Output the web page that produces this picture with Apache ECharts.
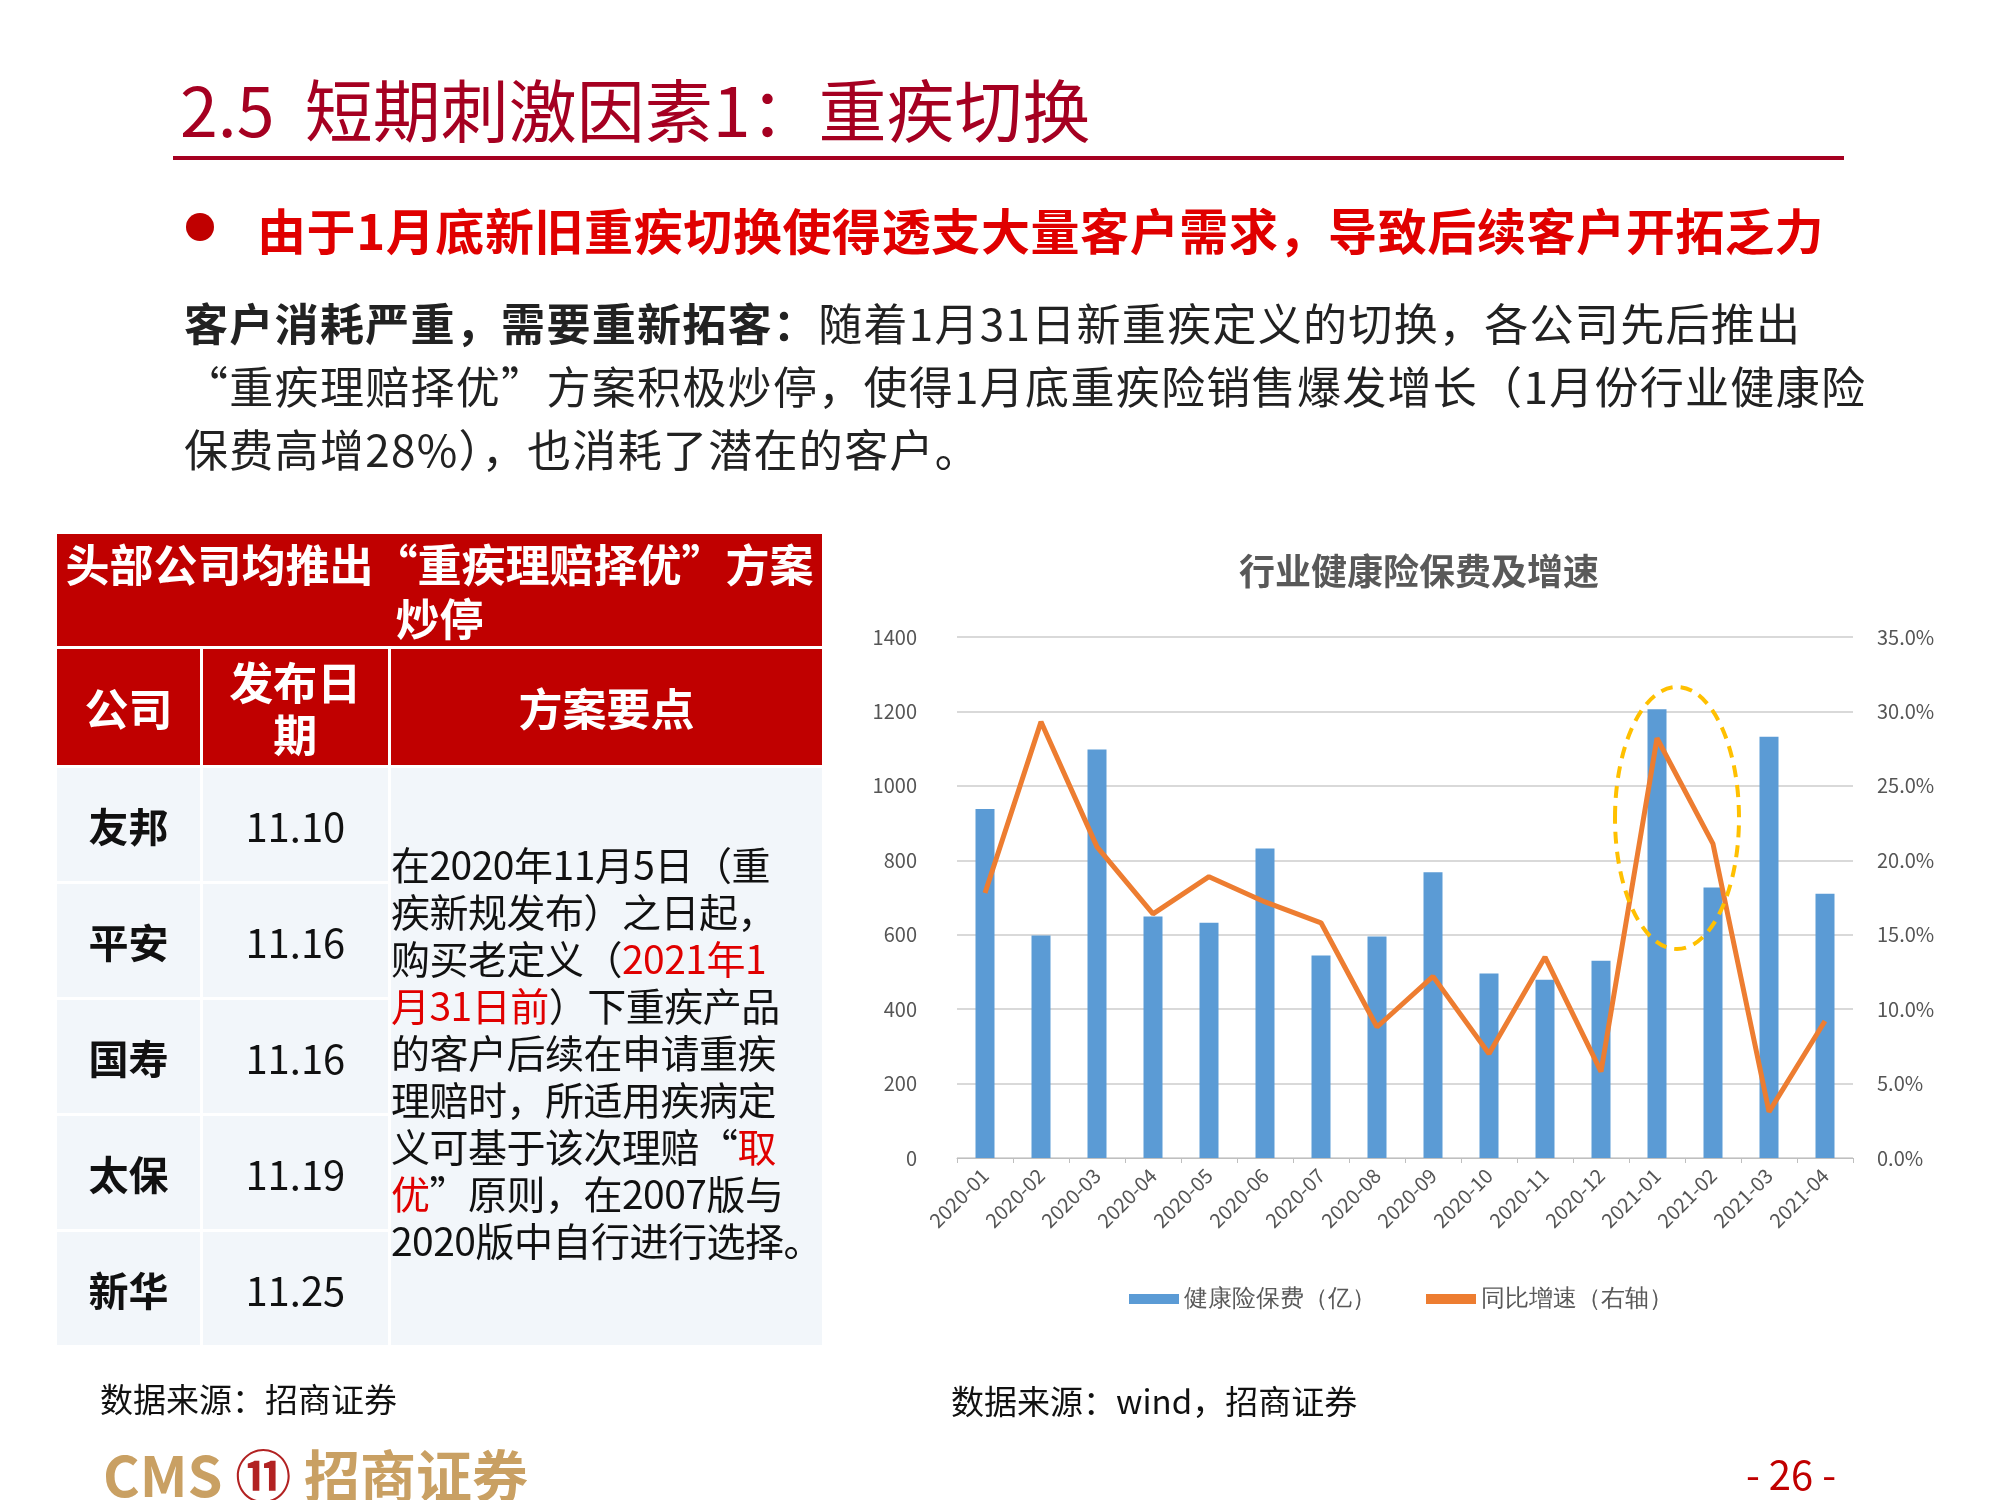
<!DOCTYPE html>
<html><head><meta charset="utf-8">
<script src="https://cdn.jsdelivr.net/npm/echarts@6/dist/echarts.min.js"></script>
<style>
body{margin:0;width:2000px;height:1500px;background:#fff;font-family:"Noto Sans CJK SC","Noto Sans",sans-serif;position:relative;overflow:hidden}
#c{position:absolute;left:0;top:0;width:2000px;height:1500px}
.a{position:absolute;white-space:nowrap}
table{position:absolute;left:54px;top:531px;width:771px;border-collapse:collapse;font-size:40px}
td{border:3px solid #fff;text-align:center;padding:0}
.h{background:#C00000;color:#fff;font-weight:bold}
.d{background:#F2F6FA;color:#111}
</style></head><body>
<div id="c"></div>
<div class="a" style="left:180px;top:58px;font-size:68px;color:#A50021">2.5&nbsp; 短期刺激因素1：重疾切换</div>
<div class="a" style="left:173px;top:156px;width:1671px;height:4px;background:#A50021"></div>
<div class="a" style="left:186px;top:213px;width:28px;height:28px;border-radius:50%;background:#C00000"></div>
<div class="a" style="left:257px;top:193px;font-size:49px;font-weight:bold;color:#E00000;letter-spacing:0.6px">由于1月底新旧重疾切换使得透支大量客户需求，导致后续客户开拓乏力</div>
<div class="a" style="left:184px;top:291px;font-size:44px;line-height:63px;color:#222;letter-spacing:1.3px">
<b>客户消耗严重，需要重新拓客：</b>随着1月31日新重疾定义的切换，各公司先后推出<br>“重疾理赔择优”方案积极炒停，使得1月底重疾险销售爆发增长（1月份行业健康险<br>保费高增28%），也消耗了潜在的客户。</div>
<table>
<tr style="height:115px"><td class="h" colspan="3" style="font-size:44px;line-height:54px">头部公司均推出“重疾理赔择优”方案<br>炒停</td></tr>
<tr style="height:119px"><td class="h" style="width:145px;font-size:44px">公司</td><td class="h" style="width:187px;font-size:44px;line-height:52px">发布日<br>期</td><td class="h" style="font-size:44px">方案要点</td></tr>
<tr style="height:116px"><td class="d"><b>友邦</b></td><td class="d">11.10</td><td class="d" rowspan="5" style="text-align:left;font-size:39px;line-height:47px;vertical-align:top;padding-top:72px;white-space:nowrap;letter-spacing:-0.5px">在2020年11月5日（重<br>疾新规发布）之日起，<br>购买老定义（<span style="color:#E00000">2021年1<br>月31日前</span>）下重疾产品<br>的客户后续在申请重疾<br>理赔时，所适用疾病定<br>义可基于该次理赔“<span style="color:#E00000">取<br>优</span>”原则，在2007版与<br>2020版中自行进行选择。</td></tr>
<tr style="height:116px"><td class="d"><b>平安</b></td><td class="d">11.16</td></tr>
<tr style="height:116px"><td class="d"><b>国寿</b></td><td class="d">11.16</td></tr>
<tr style="height:116px"><td class="d"><b>太保</b></td><td class="d">11.19</td></tr>
<tr style="height:116px"><td class="d"><b>新华</b></td><td class="d">11.25</td></tr>
</table>
<div class="a" style="left:100px;font-size:33px;color:#111;top:1374px">数据来源：招商证券</div>
<div class="a" style="left:951px;top:1376px;font-size:33px;color:#111">数据来源：wind，招商证券</div>
<div class="a" style="left:103px;top:1432px;font-size:56px;font-weight:bold;color:#C9A063">CMS <span style="color:#B22222">⑪</span> 招商证券</div>
<div class="a" style="left:1746px;top:1444px;font-size:40px;color:#C00000">- 26 -</div>
<script>
const months=['2020-01','2020-02','2020-03','2020-04','2020-05','2020-06','2020-07','2020-08','2020-09','2020-10','2020-11','2020-12','2021-01','2021-02','2021-03','2021-04'];
const premium=[938,598,1098,649,632,832,544,595,768,496,479,530,1206,727,1132,710];
const growth=[17.8,29.3,20.9,16.4,18.9,17.2,15.8,8.8,12.2,7.0,13.5,5.8,28.2,21.1,3.1,9.2];
const labelIdx=[12,13];
const ch=echarts.init(document.getElementById('c'));
const ax={color:'#555',fontSize:20,fontFamily:'Noto Sans CJK SC'};
ch.setOption({
 animation:false,
 title:{text:'行业健康险保费及增速',left:1414,top:548,textAlign:'center',textStyle:{fontSize:36,color:'#595959',fontWeight:'bold',fontFamily:'Noto Sans CJK SC'}},
 legend:{top:1282,left:1414-290,itemWidth:50,itemHeight:10,itemGap:50,textStyle:{fontSize:24,color:'#595959'},data:[{name:'健康险保费（亿）',icon:'rect'},{name:'同比增速（右轴）',icon:'rect'}]},
 grid:{left:957,right:147,top:637,bottom:342},
 xAxis:{type:'category',data:months,axisLine:{lineStyle:{color:'#bfbfbf'}},axisTick:{show:true,lineStyle:{color:'#bfbfbf'}},axisLabel:Object.assign({rotate:45,margin:14},ax)},
 yAxis:[{type:'value',min:0,max:1400,interval:200,axisLabel:Object.assign({margin:40,formatter:v=>String(v)},ax),splitLine:{lineStyle:{color:'#d9d9d9',width:2}}},
  {type:'value',min:0,max:35,interval:5,axisLabel:Object.assign({margin:24,formatter:v=>v.toFixed(1)+'%'},ax),splitLine:{show:false}}],
 series:[{name:'健康险保费（亿）',type:'bar',data:premium,barWidth:19,itemStyle:{color:'#5B9BD5'}},
  {name:'同比增速（右轴）',type:'line',yAxisIndex:1,data:growth.map((v,i)=>({value:v,label:{show:labelIdx.includes(i),position:'right',formatter:v.toFixed(1)+'%',fontSize:20,color:'#404040',offset:i==12?[8,0]:[6,0]}})),symbol:'none',lineStyle:{color:'#ED7D31',width:5},itemStyle:{color:'#ED7D31'}}],
 graphic:[{type:'ellipse',shape:{cx:1677,cy:818,rx:62,ry:131},style:{fill:'none',stroke:'#FFC000',lineWidth:4,lineDash:[12,8]},z:100}]
});
</script></body></html>
